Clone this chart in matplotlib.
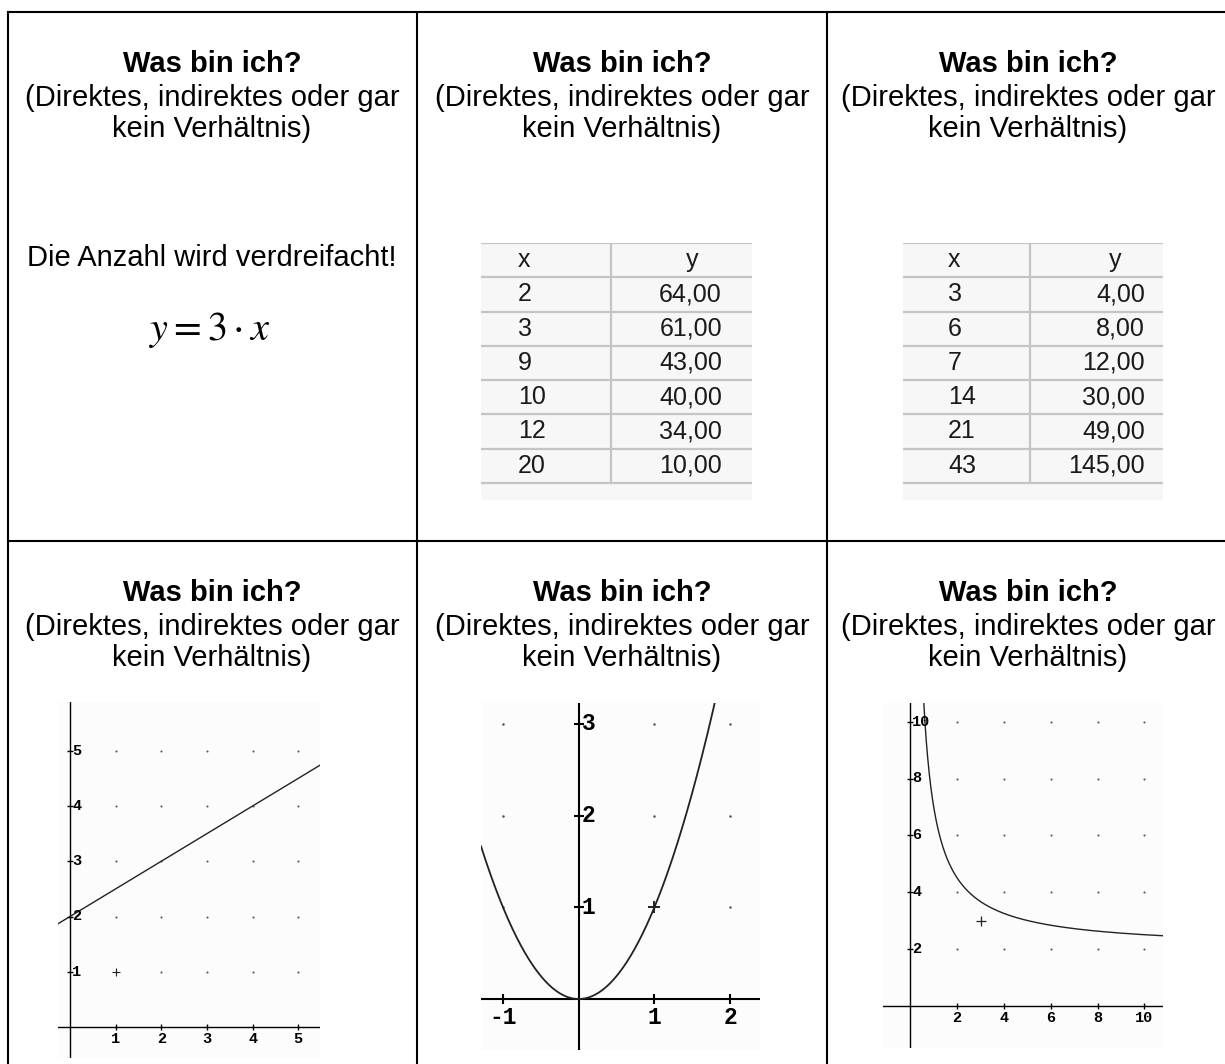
"""Was bin ich? - worksheet grid with a formula, two tables and three graphs"""

import numpy as np
import matplotlib
matplotlib.use('Agg')
import matplotlib.pyplot as plt
from matplotlib.lines import Line2D

W, H = 1225, 1064

TITLE = 'Was bin ich?'
SUBTITLE = ['(Direktes, indirektes oder gar', 'kein Verhältnis)']
STATEMENT = 'Die Anzahl wird verdreifacht!'
FORMULA = r'$y = 3\cdot x$'

TABLE_HEADER = ['x', 'y']
TABLE1_X = ['2', '3', '9', '10', '12', '20']
TABLE1_Y = ['64,00', '61,00', '43,00', '40,00', '34,00', '10,00']
TABLE2_X = ['3', '6', '7', '14', '21', '43']
TABLE2_Y = ['4,00', '8,00', '12,00', '30,00', '49,00', '145,00']

# graph 1: straight line y = m*x + b
LINE_SLOPE = 0.5
LINE_INTERCEPT = 2
LINE_POINT = (1, 1)
LINE_XTICKS = [1, 2, 3, 4, 5]
LINE_YTICKS = [1, 2, 3, 4, 5]

# graph 2: parabola y = a*x^2
PARABOLA_A = 1
PARABOLA_POINT = (1, 1)
PARABOLA_XTICKS = [-1, 1, 2]
PARABOLA_YTICKS = [1, 2, 3]

# graph 3: hyperbola y = c + k/x
HYPERBOLA_C = 2
HYPERBOLA_K = 5
HYPERBOLA_POINT = (3, 3)
HYPERBOLA_XTICKS = [2, 4, 6, 8, 10]
HYPERBOLA_YTICKS = [2, 4, 6, 8, 10]


def fy(y):
    """pixel row (from top) -> figure fraction"""
    return 1 - y / H


def px_axes(fig, x0, y0, x1, y1):
    """axes placed by pixel box (top-left origin)"""
    return fig.add_axes([x0 / W, 1 - y1 / H, (x1 - x0) / W, (y1 - y0) / H])


def draw_header(fig, cx, top):
    fig.text(cx / W, fy(top + 60), TITLE, ha='center', va='baseline',
             fontsize=21, fontweight='bold', family='Liberation Sans')
    for i, line in enumerate(SUBTITLE):
        fig.text(cx / W, fy(top + 94 + i * 31), line, ha='center', va='baseline',
                 fontsize=21, family='Liberation Sans')


def draw_table(fig, box, split, x_left, y_head, y_right, xs, ys):
    ax = px_axes(fig, *box)
    n = len(xs) + 1
    ax.set_xlim(0, 1)
    ax.set_ylim(n + 0.5, 0)
    ax.axis('off')
    ax.axhspan(0, n + 0.5, color='#f7f7f7', lw=0)
    for r in range(n + 1):
        ax.axhline(r, color='#c4c4c4', lw=1.6)
    ax.plot([split, split], [0, n], color='#c4c4c4', lw=1.6)
    style = dict(fontsize=18, family='Liberation Sans', color='#1a1a1a', va='center')
    ax.text(x_left, 0.5, TABLE_HEADER[0], ha='left', **style)
    ax.text(y_head, 0.5, TABLE_HEADER[1], ha='center', **style)
    for i, (a, b) in enumerate(zip(xs, ys)):
        ax.text(x_left, i + 1.5, a, ha='left', **style)
        ax.text(y_right, i + 1.5, b, ha='right', **style)


def setup_graph(fig, box, origin, unit, xticks, yticks, scale=1.0):
    x0, y0, x1, y1 = box
    ox, oy = origin
    ux, uy = unit
    ax = px_axes(fig, *box)
    ax.set_xlim((x0 - ox) / ux, (x1 - ox) / ux)
    ax.set_ylim((oy - y1) / uy, (oy - y0) / uy)
    ax.set_facecolor('#fcfcfc')
    for s in ax.spines.values():
        s.set_visible(False)
    ax.set_xticks([])
    ax.set_yticks([])
    ax.axhline(0, color='black', lw=1.0 * scale)
    ax.axvline(0, color='black', lw=1.0 * scale)
    # tick marks on the axes
    ax.plot(xticks, [0] * len(xticks), ls='none', marker='|', ms=5 * scale,
            mew=1 * scale, color='black')
    ax.plot([0] * len(yticks), yticks, ls='none', marker='_', ms=5 * scale,
            mew=1 * scale, color='black')
    lab = dict(fontsize=11 * scale, fontweight='bold', family='Liberation Mono',
               color='black')
    for v in xticks:
        ax.annotate(str(v), (v, 0), xytext=(0, -3.5 * scale), textcoords='offset points',
                    ha='center', va='top', **lab)
    for v in yticks:
        ax.annotate(str(v), (0, v), xytext=(1.5 * scale, 0), textcoords='offset points',
                    ha='left', va='center', **lab)
    # dotted grid at the tick positions
    gx, gy = np.meshgrid(xticks, yticks)
    ax.scatter(gx.ravel(), gy.ravel(), s=2.2 * scale, color='#555555', lw=0, zorder=1)
    return ax


fig = plt.figure(figsize=(W / 100, H / 100), dpi=100)

# cell borders
border = dict(color='black', lw=1.5, transform=fig.transFigure)
for x in [8, 417, 827]:
    fig.add_artist(Line2D([x / W, x / W], [fy(12), fy(H)], **border))
for y in [12, 541]:
    fig.add_artist(Line2D([8 / W, 1], [fy(y), fy(y)], **border))

col_centers = [212, 622, 1028]
for top in [12, 541]:
    for cx in col_centers:
        draw_header(fig, cx, top)

# cell 1: statement and formula
fig.text(212 / W, fy(266), STATEMENT, ha='center', va='baseline',
         fontsize=21, family='Liberation Sans')
plt.rcParams['mathtext.fontset'] = 'stix'
fig.text(210 / W, fy(340), FORMULA, ha='center', va='baseline', fontsize=29)

# cells 2 and 3: tables
draw_table(fig, (481, 243, 752, 500), 0.48, 0.137, 0.78, 0.889, TABLE1_X, TABLE1_Y)
draw_table(fig, (903, 243, 1163, 500), 0.488, 0.173, 0.815, 0.931, TABLE2_X, TABLE2_Y)

# graph 1: line
ax1 = setup_graph(fig, (58, 702, 320, 1058), (70, 1027), (45.65, 55.25),
                  LINE_XTICKS, LINE_YTICKS)
ax1.axline((0, LINE_INTERCEPT), slope=LINE_SLOPE, color='#222222', lw=1.0)
ax1.plot(*LINE_POINT, marker='+', ms=6, mew=0.8, color='#222222')

# graph 2: parabola (drawn at a larger scale in the original)
ax2 = setup_graph(fig, (481, 703, 760, 1050), (578.7, 999), (75.7, 91.7),
                  PARABOLA_XTICKS, PARABOLA_YTICKS, scale=1.5)
px = np.linspace(*ax2.get_xlim(), 400)
ax2.plot(px, PARABOLA_A * px ** 2, color='#222222', lw=1.3)
ax2.plot(*PARABOLA_POINT, marker='+', ms=9, mew=1.4, color='#222222')

# graph 3: hyperbola
ax3 = setup_graph(fig, (883, 703, 1163, 1048), (910.3, 1005.7), (23.4, 28.4),
                  HYPERBOLA_XTICKS, HYPERBOLA_YTICKS)
hx = np.linspace(0.3, ax3.get_xlim()[1], 600)
ax3.plot(hx, HYPERBOLA_C + HYPERBOLA_K / hx, color='#222222', lw=1.0)
ax3.plot(*HYPERBOLA_POINT, marker='+', ms=7, mew=0.9, color='#222222')

fig.savefig('out.png', dpi=100, facecolor='white')
